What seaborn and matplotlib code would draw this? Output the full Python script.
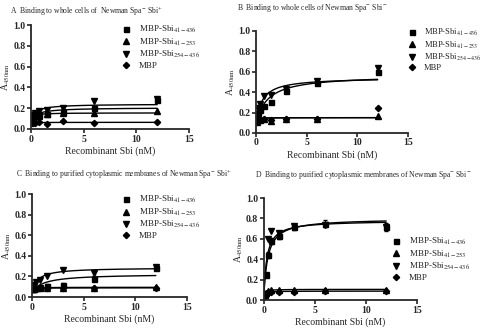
import numpy as np
import pandas as pd
import matplotlib.pyplot as plt
import seaborn as sns

# concentracoes (nM), serie de diluicao 1:2
conc = [0.09375, 0.1875, 0.375, 0.75, 1.5, 3, 6, 12]
construtos = [r"MBP-Sbi$_{\mathrm{41-436}}$", r"MBP-Sbi$_{\mathrm{41-253}}$",
              r"MBP-Sbi$_{\mathrm{254-436}}$", "MBP"]

# A - celulas inteiras Spa- Sbi+
a_41_436 = [0.11, 0.12, 0.12, 0.13, 0.14, 0.16, 0.20, 0.28]
a_41_253 = [0.10, 0.11, 0.12, 0.12, 0.14, 0.15, 0.15, 0.17]
a_254_436 = [0.12, 0.13, 0.15, 0.17, 0.18, 0.20, 0.27, 0.29]
a_mbp = [0.06, 0.06, 0.06, 0.065, 0.05, 0.075, 0.055, 0.065]
a_err = [0.01, 0.01, 0.01, 0.01, 0.015, 0.02, 0.02, 0.02]

# B - celulas inteiras Spa- Sbi-
b_41_436 = [0.15, 0.20, 0.22, 0.26, 0.30, 0.41, 0.49, 0.60]
b_41_253 = [0.11, 0.13, 0.13, 0.14, 0.12, 0.14, 0.14, 0.17]
b_254_436 = [0.18, 0.24, 0.28, 0.36, 0.37, 0.43, 0.51, 0.64]
b_mbp = [0.12, 0.12, 0.13, 0.14, 0.13, 0.14, 0.14, 0.24]
b_err = [0.01, 0.01, 0.01, 0.01, 0.01, 0.015, 0.02, 0.02]

# C - membranas Spa- Sbi+
c_41_436 = [0.08, 0.09, 0.09, 0.10, 0.11, 0.12, 0.18, 0.28]
c_41_253 = [0.08, 0.08, 0.09, 0.09, 0.09, 0.09, 0.09, 0.10]
c_254_436 = [0.10, 0.12, 0.15, 0.17, 0.20, 0.26, 0.23, 0.29]
c_mbp = [0.08, 0.08, 0.08, 0.09, 0.09, 0.09, 0.09, 0.09]
c_err = [0.01, 0.01, 0.01, 0.01, 0.015, 0.02, 0.02, 0.02]

# D - membranas Spa- Sbi-
d_41_436 = [0.05, 0.25, 0.44, 0.58, 0.63, 0.72, 0.75, 0.72]
d_41_253 = [0.05, 0.07, 0.09, 0.10, 0.10, 0.10, 0.10, 0.10]
d_254_436 = [0.06, 0.25, 0.60, 0.68, 0.66, 0.73, 0.74, 0.72]
d_mbp = [0.04, 0.06, 0.07, 0.08, 0.08, 0.08, 0.085, 0.085]
d_err = [0.01, 0.02, 0.03, 0.03, 0.03, 0.03, 0.03, 0.04]

# parametros das curvas ajustadas (B0, Bmax, Kd)
a_fit = [(0.09, 0.115, 0.7), (0.10, 0.055, 0.3), (0.09, 0.15, 0.5), (0.06, 0.004, 1.0)]
b_fit = [(0.10, 0.468, 1.2), (0.11, 0.04, 0.1), (0.10, 0.443, 0.64), (0.12, 0.03, 0.2)]
c_fit = [(0.05, 0.175, 1.2), (0.07, 0.025, 0.2), (0.05, 0.236, 0.58), (0.075, 0.015, 0.3)]
d_fit = [(0.03, 0.77, 0.40), (0.04, 0.065, 0.1), (0.03, 0.75, 0.30), (0.04, 0.048, 0.15)]

titulos = [
    r"A  Binding to whole cells of  Newman Spa$^{-}$ Sbi$^{+}$",
    r"B  Binding to whole cells of Newman Spa$^{-}$ Sbi$^{-}$",
    r"C  Binding to purified cytoplasmic membranes of Newman Spa$^{-}$ Sbi$^{+}$",
    r"D  Binding to purified cytoplasmic membranes of Newman Spa$^{-}$ Sbi$^{-}$",
]

paineis = [
    ([a_41_436, a_41_253, a_254_436, a_mbp], a_err, a_fit),
    ([b_41_436, b_41_253, b_254_436, b_mbp], b_err, b_fit),
    ([c_41_436, c_41_253, c_254_436, c_mbp], c_err, c_fit),
    ([d_41_436, d_41_253, d_254_436, d_mbp], d_err, d_fit),
]

# posicoes dos eixos (fracao da figura) e das legendas
POS_EIXOS = [
    [0.064, 0.608, 0.326, 0.316],
    [0.529, 0.596, 0.314, 0.310],
    [0.066, 0.097, 0.320, 0.313],
    [0.545, 0.088, 0.316, 0.310],
]
POS_LEGENDA = [(0.252, 0.927), (0.842, 0.918), (0.251, 0.410), (0.809, 0.283)]
TAM_LEGENDA = [6.5, 6.1, 6.5, 6.5]
POS_TITULO = [(0.02, 0.965), (0.49, 0.975), (0.033, 0.47), (0.527, 0.468)]
MARCADORES = ["s", "^", "v", "D"]
TAM_MARC = [3.6, 3.8, 3.8, 3.2]

sns.set_style("ticks")
plt.rcParams["font.family"] = ["Liberation Serif", "DejaVu Serif"]
plt.rcParams["mathtext.fontset"] = "stix"

fig = plt.figure(figsize=(4.84, 3.29), dpi=100)

xs = np.linspace(0, 12, 200)
for i, (series, err, fit) in enumerate(paineis):
    ax = fig.add_axes(POS_EIXOS[i])

    pontos = pd.DataFrame({
        "x": np.tile(conc, 4),
        "y": np.concatenate(series),
        "construto": np.repeat(construtos, len(conc)),
    })

    curvas = pd.concat([
        pd.DataFrame({"x": xs, "y": b0 + bmax * xs / (kd + xs), "construto": nome})
        for nome, (b0, bmax, kd) in zip(construtos, fit)
    ])

    sns.lineplot(data=curvas, x="x", y="y", hue="construto",
                 palette=["black"] * 4, estimator=None, legend=False,
                 linewidth=1.0, ax=ax)

    ax.errorbar(conc, series[0], yerr=err, fmt="none", ecolor="black",
                elinewidth=0.8, capsize=1.5)

    for nome, mk, ms in zip(construtos, MARCADORES, TAM_MARC):
        sub = pontos[pontos["construto"] == nome]
        ax.plot(sub["x"], sub["y"], linestyle="none", marker=mk,
                markersize=ms, color="black", label=nome)

    ax.set_xlim(0, 15)
    ax.set_ylim(0, 1.0)
    ax.set_xticks([0, 5, 10, 15])
    ax.set_yticks(np.arange(0, 1.01, 0.2))
    ax.set_yticklabels([f"{v:.1f}" for v in np.arange(0, 1.01, 0.2)])
    ax.tick_params(labelsize=7, width=1.2, length=3, pad=1)
    for t in ax.get_xticklabels() + ax.get_yticklabels():
        t.set_fontweight("bold")
    for lado in ["left", "bottom"]:
        ax.spines[lado].set_linewidth(1.3)
    sns.despine(ax=ax)

    ax.set_xlabel("Recombinant Sbi (nM)", fontsize=7, labelpad=2)
    ax.set_ylabel(r"A$_{\mathrm{450nm}}$", fontsize=7, labelpad=1)

    ax.legend(loc="upper left", bbox_to_anchor=POS_LEGENDA[i],
              bbox_transform=fig.transFigure, frameon=False,
              fontsize=TAM_LEGENDA[i], handletextpad=0.9, labelspacing=0.15,
              borderaxespad=0, borderpad=0, handlelength=1.0)

    fig.text(POS_TITULO[i][0], POS_TITULO[i][1], titulos[i], fontsize=5.5,
             va="center", ha="left")

fig.savefig("out.png", dpi=100)
